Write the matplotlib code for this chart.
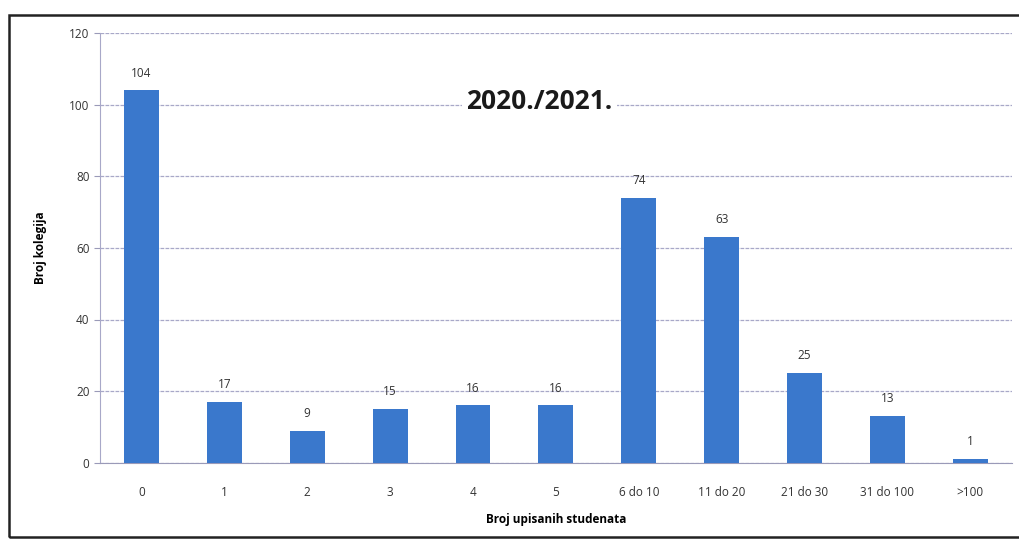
import matplotlib
matplotlib.use("Agg")
import matplotlib.pyplot as plt
from matplotlib.patches import Rectangle

categories = ["0", "1", "2", "3", "4", "5", "6 do 10", "11 do 20", "21 do 30", "31 do 100", ">100"]
counts = [104, 17, 9, 15, 16, 16, 74, 63, 25, 13, 1]
yticks = [0, 20, 40, 60, 80, 100, 120]

plt.rcParams['font.family'] = ['Open Sans', 'DejaVu Sans']

fig = plt.figure(figsize=(10.2, 5.4), dpi=100)
ax = fig.add_axes([0.098, 0.143, 0.894, 0.796])

x = list(range(len(categories)))
bars = ax.bar(x, counts, width=0.42, color="#3a78cc", zorder=3)

for xi, v in zip(x, counts):
    ax.text(xi, v + 3, str(v), ha="center", va="bottom", fontsize=8.5, color="#333333")

ax.set_xlim(-0.5, len(categories) - 0.5)
ax.set_ylim(0, 120)
ax.set_yticks(yticks)
ax.set_xticks(x)
ax.set_xticklabels(categories, fontsize=8.5, color="#333333")
ax.tick_params(axis="y", labelsize=8.5, labelcolor="#333333", length=4, color="#9a9ab8")
ax.tick_params(axis="x", length=0, pad=17)
ax.grid(axis="y", color="#a8a8c8", linestyle=(0, (3, 1)), linewidth=0.9, zorder=0)

for side in ["top", "right"]:
    ax.spines[side].set_visible(False)
ax.spines["left"].set_color("#a8a8c8")
ax.spines["left"].set_linestyle((0, (2, 1)))
ax.spines["bottom"].set_color("#9a9ab8")

ax.set_ylabel("Broj kolegija", fontsize=8.5, fontweight="bold", labelpad=16)
ax.set_xlabel("Broj upisanih studenata", fontsize=8.5, fontweight="bold", labelpad=10)

ax.text(0.482, 0.84, "2020./2021.", transform=ax.transAxes, ha="center", va="center",
        fontsize=19, fontweight="bold", color="#1a1a1a",
        bbox=dict(facecolor="white", edgecolor="none", pad=3), zorder=5)

fig.patches.append(Rectangle((0.009, 0.005), 1.05, 0.968, transform=fig.transFigure,
                             fill=False, edgecolor="#222222", linewidth=1.8))

fig.savefig("out.png", dpi=100)
